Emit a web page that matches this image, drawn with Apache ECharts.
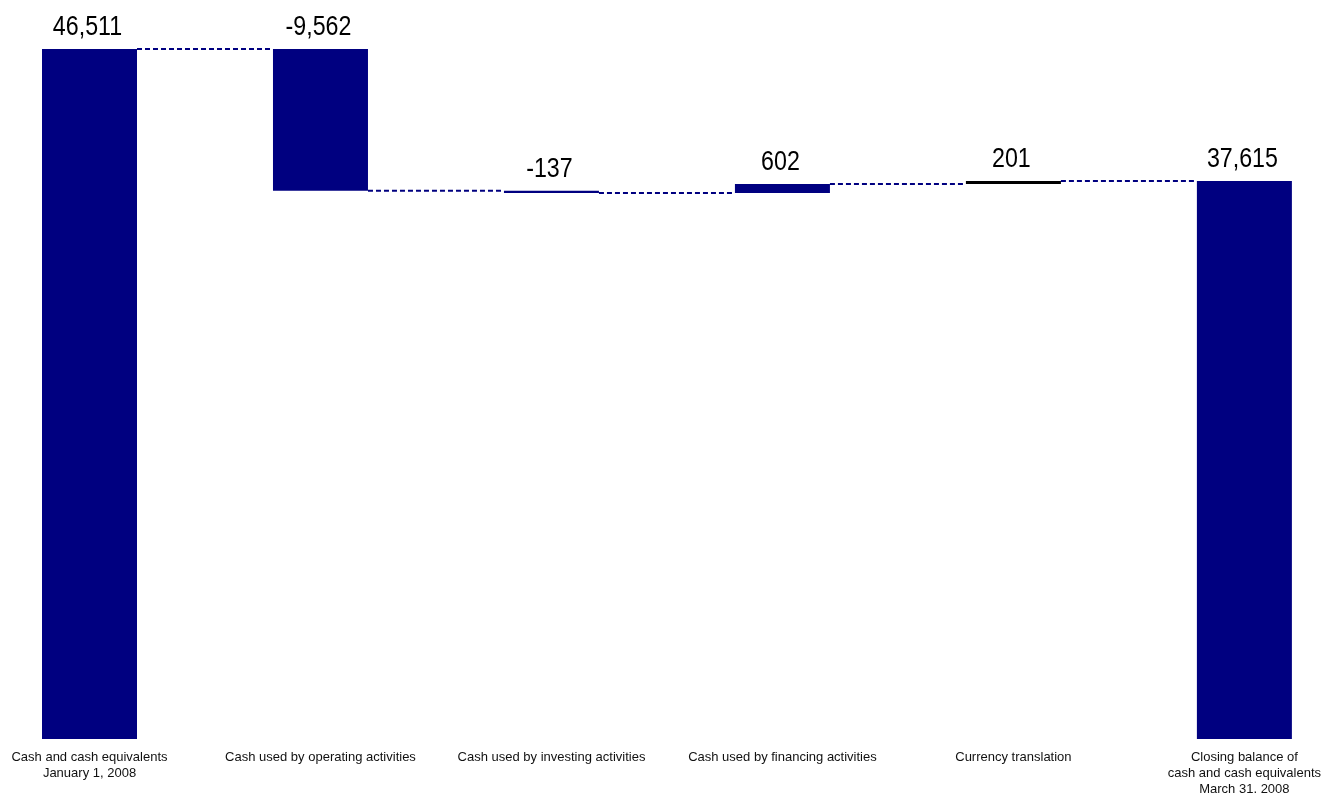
<!DOCTYPE html>
<html>
<head>
<meta charset="utf-8">
<script src="https://cdn.jsdelivr.net/npm/echarts@6/dist/echarts.min.js"></script>
<style>
html,body{margin:0;padding:0;background:#fff;}
#chart{width:1324px;height:805px;}
</style>
</head>
<body>
<div id="chart"></div>
<script>
const categories = [
  "Cash and cash equivalents\nJanuary 1, 2008",
  "Cash used by operating activities",
  "Cash used by investing activities",
  "Cash used by financing activities",
  "Currency translation",
  "Closing balance of\ncash and cash equivalents\nMarch 31. 2008"
];
const changes = [46511, -9562, -137, 602, 201, 37615];
const isTotal = [true, false, false, false, false, true];
const barColors = ["#000080", "#000080", "#000080", "#000080", "#000000", "#000080"];

// derive waterfall base / visible heights and running levels
const baseVals = [];
const barVals = [];
const tops = [];
const levels = [];
let running = 0;
changes.forEach((v, i) => {
  if (isTotal[i]) {
    baseVals.push(0);
    barVals.push(v);
    tops.push(v);
    running = v;
  } else {
    const next = running + v;
    baseVals.push(Math.min(running, next));
    barVals.push(Math.abs(v));
    tops.push(Math.max(running, next));
    running = next;
  }
  levels.push(running);
});

const BAR_W = 95;
const fmt = v => v.toLocaleString('en-US');

const chart = echarts.init(document.getElementById('chart'));
chart.setOption({
  animation: false,
  grid: { left: 89.5, right: 1324 - 1245, top: 49, bottom: 66, containLabel: false },
  xAxis: {
    type: 'category',
    data: categories,
    boundaryGap: false,
    axisLine: { show: false },
    axisTick: { show: false },
    splitLine: { show: false },
    axisLabel: {
      interval: 0,
      margin: 10,
      fontFamily: 'Liberation Sans, Arial, sans-serif',
      fontSize: 13,
      lineHeight: 16,
      color: '#111'
    }
  },
  yAxis: { type: 'value', min: 0, max: 46511, show: false, splitLine: { show: false } },
  series: [
    {
      type: 'bar', stack: 'w', barWidth: BAR_W,
      data: baseVals,
      itemStyle: { color: 'transparent' },
      silent: true
    },
    {
      type: 'bar', stack: 'w', barWidth: BAR_W,
      data: barVals.map((v, i) => ({ value: v, itemStyle: { color: barColors[i] } }))
    },
    {
      type: 'custom',
      data: levels.slice(0, levels.length - 1).map((lv, i) => [i, lv]),
      renderItem: (params, api) => {
        const i = api.value(0);
        const lv = api.value(1);
        const p1 = api.coord([i, lv]);
        const p2 = api.coord([i + 1, lv]);
        return {
          type: 'line',
          shape: { x1: p1[0] + BAR_W / 2, y1: p1[1], x2: p2[0] - BAR_W / 2, y2: p2[1] },
          style: { stroke: '#000080', lineWidth: 2, lineDash: [5, 3] }
        };
      },
      z: 3
    },
    {
      type: 'custom',
      data: tops.map((t, i) => [i, t, changes[i]]),
      renderItem: (params, api) => {
        const i = api.value(0);
        const p = api.coord([i, api.value(1)]);
        return {
          type: 'text',
          x: p[0] - 2,
          y: p[1] - 8,
          scaleX: 0.86,
          style: {
            text: fmt(api.value(2)),
            fontFamily: 'Liberation Sans, Arial, sans-serif',
            fontSize: 27,
            fill: '#000',
            align: 'center',
            verticalAlign: 'bottom'
          }
        };
      },
      z: 5
    }
  ]
});
</script>
</body>
</html>
